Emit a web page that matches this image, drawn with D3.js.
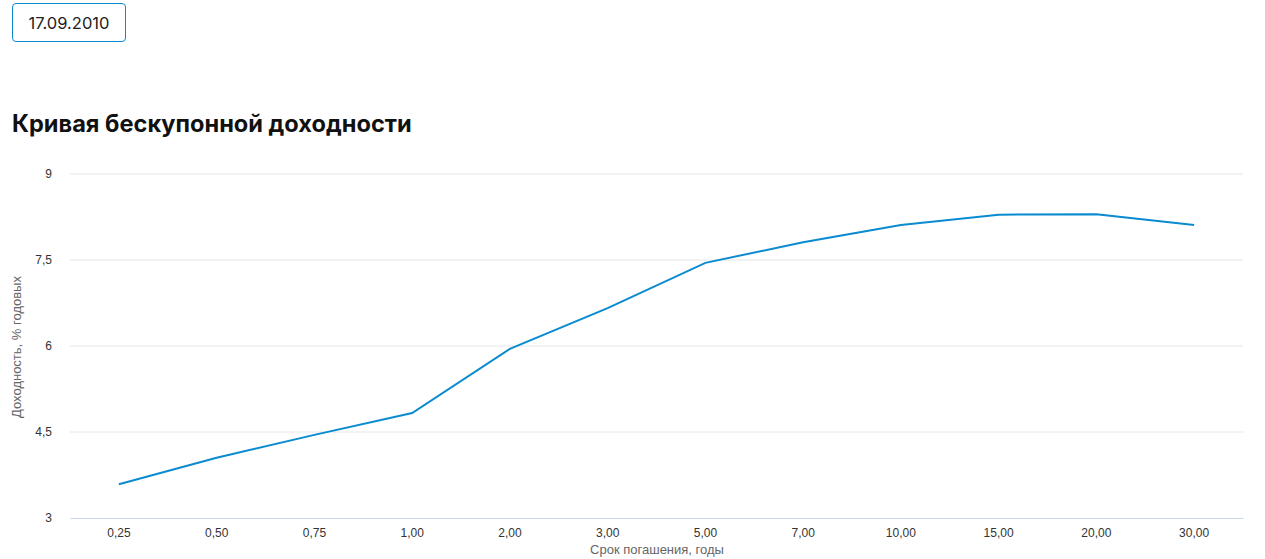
<!DOCTYPE html>
<html>
<head>
<meta charset="utf-8">
<script src="https://cdn.jsdelivr.net/npm/d3@7"></script>
<style>
  body { margin: 0; background: #fff; font-family: "Inter", "Noto Sans", sans-serif; }
  .datebox {
    position: absolute; left: 12px; top: 3px; width: 114px; height: 39px;
    border: 1px solid #0a8bd0; border-radius: 4px; box-sizing: border-box;
    font-size: 16.5px; color: #222; display: flex; align-items: center; justify-content: center;
  }
  h2 { position: absolute; left: 12px; top: 109px; margin: 0; font-size: 23.6px; font-weight: 700; color: #111; }
  #chart { position: absolute; left: 0; top: 0; }
</style>
</head>
<body>
<div class="datebox">17.09.2010</div>
<h2>Кривая бескупонной доходности</h2>
<div id="chart"></div>
<script>
// сроки погашения и доходность
var terms = ["0,25", "0,50", "0,75", "1,00", "2,00", "3,00", "5,00", "7,00", "10,00", "15,00", "20,00", "30,00"];
var yields = [3.59, 4.05, 4.45, 4.83, 5.95, 6.66, 7.45, 7.81, 8.11, 8.29, 8.30, 8.11];
var yTicks = [3, 4.5, 6, 7.5, 9];

var width = 1265, height = 559;
var svg = d3.select("#chart").append("svg")
    .attr("width", width)
    .attr("height", height)
    .style("font-family", "'Liberation Sans', Arial, sans-serif");

var x = d3.scaleBand().domain(terms).range([70, 1243]);
var y = d3.scaleLinear().domain([3, 9]).range([518, 174]);

// сетка
svg.append("g").selectAll("line")
    .data(yTicks.slice(1))
    .enter().append("line")
    .attr("x1", 70).attr("x2", 1243)
    .attr("y1", function(d) { return y(d); })
    .attr("y2", function(d) { return y(d); })
    .attr("stroke", "#e6e6e6");

var fmt = function(d) { return String(d).replace(".", ","); };

var yAxis = svg.append("g")
    .attr("transform", "translate(55,0)")
    .call(d3.axisLeft(y).tickValues(yTicks).tickFormat(fmt).tickSize(0));
yAxis.select(".domain").remove();
yAxis.selectAll("text").attr("font-size", 12).attr("fill", "#333").attr("dy", "0.32em");

var xAxis = svg.append("g")
    .attr("transform", "translate(0,518)")
    .call(d3.axisBottom(x).tickSize(0).tickPadding(10));
xAxis.select(".domain").attr("stroke", "#ccd6eb");
xAxis.selectAll("text").attr("font-size", 12).attr("fill", "#333");

svg.append("text")
    .attr("x", 657).attr("y", 554)
    .attr("text-anchor", "middle")
    .attr("font-size", 13).attr("fill", "#666")
    .text("Срок погашения, годы");

svg.append("text")
    .attr("transform", "translate(21,347) rotate(-90)")
    .attr("text-anchor", "middle")
    .attr("font-size", 13).attr("fill", "#666")
    .text("Доходность, % годовых");

var line = d3.line()
    .x(function(d, i) { return x(terms[i]) + x.bandwidth() / 2; })
    .y(function(d) { return y(d); });

svg.append("path")
    .datum(yields)
    .attr("d", line)
    .attr("fill", "none")
    .attr("stroke", "#0a8bd0")
    .attr("stroke-width", 2);
</script>
</body>
</html>
